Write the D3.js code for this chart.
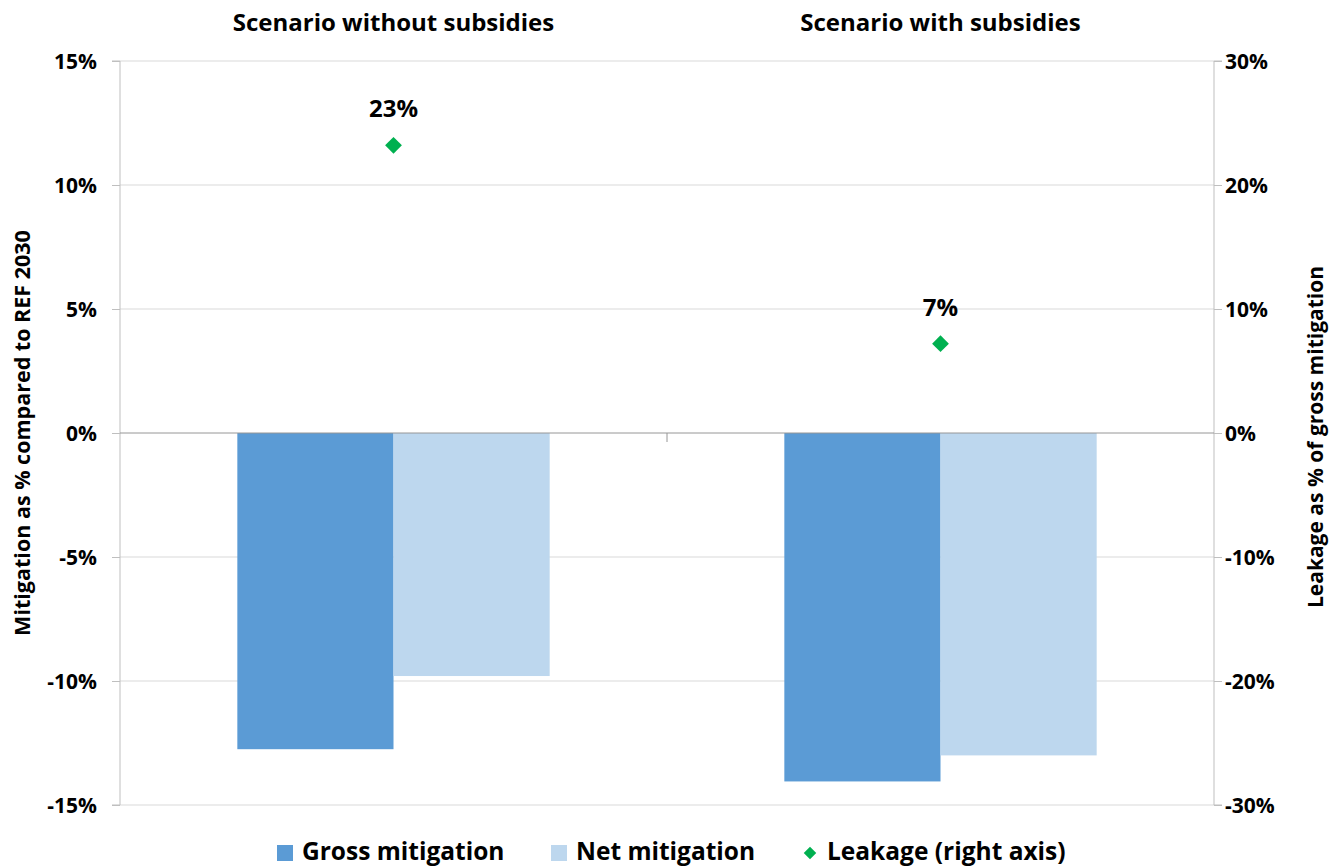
<!DOCTYPE html>
<html>
<head>
<meta charset="utf-8">
<script src="https://cdn.jsdelivr.net/npm/d3@7"></script>
<style>
  html, body { margin: 0; padding: 0; background: #fff; }
  svg { display: block; font-family: "Open Sans", sans-serif; font-weight: bold; }
</style>
</head>
<body>
<svg id="chart" width="1331" height="868"></svg>
<script>
// Scenarios (categories) and series values
const scenarios = ["Scenario without subsidies", "Scenario with subsidies"];
const grossMitigation = [-12.75, -14.05];   // % vs REF 2030
const netMitigation = [-9.8, -13.0];        // % vs REF 2030
const leakage = [23.2, 7.2];                // % of gross mitigation (right axis)
const leakageLabels = ["23%", "7%"];
const leftTicks = [15, 10, 5, 0, -5, -10, -15];
const rightTicks = [30, 20, 10, 0, -10, -20, -30];

const svg = d3.select("#chart");
const m = { left: 120, right: 1214, top: 61, bottom: 805 };
const FONT = "'Open Sans', sans-serif";

const x = d3.scaleBand().domain(scenarios).range([m.left, m.right]);
const yL = d3.scaleLinear().domain([-15, 15]).range([m.bottom, m.top]);
const yR = d3.scaleLinear().domain([-30, 30]).range([m.bottom, m.top]);

const barW = x.bandwidth() * 0.2855;

// Gridlines
svg.append("g").selectAll("line").data(leftTicks.filter(d => d !== 0)).join("line")
  .attr("x1", m.left).attr("x2", m.right)
  .attr("y1", d => yL(d)).attr("y2", d => yL(d))
  .attr("stroke", "#d9d9d9").attr("stroke-width", 1);

// Left axis
const leftAxis = d3.axisLeft(yL).tickValues(leftTicks).tickSize(8).tickFormat(d => d + "%");
const gL = svg.append("g").attr("transform", `translate(${m.left},0)`).call(leftAxis);
gL.select(".domain").attr("stroke", "#bfbfbf").attr("d", `M-8,${m.top}H0V${m.bottom}H-8`);
gL.selectAll(".tick line").attr("stroke", "#bfbfbf");
gL.selectAll(".tick text").attr("x", -23).attr("dy", "0.35em")
  .attr("font-size", 21).attr("font-weight", "bold").attr("fill", "#000")
  .attr("font-family", FONT);

// Right axis
const rightAxis = d3.axisRight(yR).tickValues(rightTicks).tickSize(8).tickFormat(d => d + "%");
const gR = svg.append("g").attr("transform", `translate(${m.right},0)`).call(rightAxis);
gR.select(".domain").attr("stroke", "#bfbfbf").attr("d", `M8,${m.top}H0V${m.bottom}H8`);
gR.selectAll(".tick line").attr("stroke", "#bfbfbf");
gR.selectAll(".tick text").attr("x", 11).attr("dy", "0.35em")
  .attr("font-size", 21).attr("font-weight", "bold").attr("fill", "#000")
  .attr("font-family", FONT);

// Bars
const series = [
  { name: "Gross mitigation", values: grossMitigation, color: "#5b9bd5", offset: -1 },
  { name: "Net mitigation", values: netMitigation, color: "#bdd7ee", offset: 0 }
];
series.forEach(s => {
  svg.append("g").selectAll("rect").data(scenarios).join("rect")
    .attr("x", (d) => x(d) + x.bandwidth() / 2 + s.offset * barW)
    .attr("width", barW)
    .attr("y", (d, i) => yL(Math.max(0, s.values[i])))
    .attr("height", (d, i) => Math.abs(yL(s.values[i]) - yL(0)))
    .attr("fill", s.color);
});

// Category axis at zero
svg.append("line").attr("x1", m.left).attr("x2", m.right)
  .attr("y1", yL(0)).attr("y2", yL(0)).attr("stroke", "#969696").attr("stroke-width", 1);
svg.append("line").attr("x1", x(scenarios[1])).attr("x2", x(scenarios[1]))
  .attr("y1", yL(0)).attr("y2", yL(0) + 9).attr("stroke", "#969696");

// Category labels on top
svg.append("g").selectAll("text").data(scenarios).join("text")
  .attr("x", d => x(d) + x.bandwidth() / 2).attr("y", 31)
  .attr("text-anchor", "middle").attr("font-size", 24).text(d => d);

// Leakage markers
const diamond = d3.symbol().type(d3.symbolDiamond2).size(180);
svg.append("g").selectAll("path").data(scenarios).join("path")
  .attr("d", diamond)
  .attr("transform", (d, i) => `translate(${x(d) + x.bandwidth() / 2},${yR(leakage[i])})`)
  .attr("fill", "#00b050");

svg.append("g").selectAll("text").data(scenarios).join("text")
  .attr("x", d => x(d) + x.bandwidth() / 2)
  .attr("y", (d, i) => yR(leakage[i]) - 28)
  .attr("text-anchor", "middle").attr("font-size", 24).text((d, i) => leakageLabels[i]);

// Axis titles
svg.append("text").attr("transform", `translate(30,${(m.top + m.bottom) / 2}) rotate(-90)`)
  .attr("text-anchor", "middle").attr("font-size", 21.5)
  .text("Mitigation as % compared to REF 2030");
svg.append("text").attr("transform", `translate(1323,${(m.top + m.bottom) / 2 + 4}) rotate(-90)`)
  .attr("text-anchor", "middle").attr("font-size", 21)
  .text("Leakage as % of gross mitigation");

// Legend
const legend = svg.append("g");
const legendItems = [
  { label: "Gross mitigation", color: "#5b9bd5", type: "rect", x: 277 },
  { label: "Net mitigation", color: "#bdd7ee", type: "rect", x: 551 },
  { label: "Leakage (right axis)", color: "#00b050", type: "diamond", x: 802 }
];
legendItems.forEach(it => {
  if (it.type === "rect") {
    legend.append("rect").attr("x", it.x).attr("y", 845).attr("width", 16).attr("height", 16).attr("fill", it.color);
  } else {
    legend.append("path").attr("d", d3.symbol().type(d3.symbolDiamond2).size(100))
      .attr("transform", `translate(${it.x + 8},853)`).attr("fill", it.color);
  }
  legend.append("text").attr("x", it.x + 25).attr("y", 860).attr("font-size", 24.5).text(it.label);
});
</script>
</body>
</html>
